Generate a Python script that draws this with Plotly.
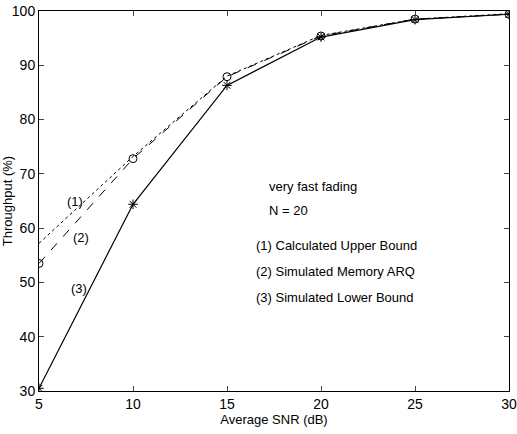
import plotly.graph_objects as go

snr = [5, 10, 15, 20, 25, 30]
upper_bound = [57.2, 73.2, 88.0, 95.5, 98.5, 99.5]
memory_arq = [53.5, 72.8, 87.9, 95.4, 98.5, 99.4]
lower_bound = [30.5, 64.4, 86.3, 95.2, 98.4, 99.4]

x_ticks = [5, 10, 15, 20, 25, 30]
y_ticks = [30, 40, 50, 60, 70, 80, 90, 100]

fig = go.Figure()
fig.add_trace(go.Scatter(x=snr, y=upper_bound, mode="lines",
                         line=dict(color="black", width=1, dash="dot"), name="(1)"))
fig.add_trace(go.Scatter(x=snr, y=memory_arq, mode="lines+markers",
                         line=dict(color="black", width=1, dash="dash"),
                         marker=dict(symbol="circle-open", size=8, color="black", line=dict(width=1)),
                         name="(2)"))
fig.add_trace(go.Scatter(x=snr, y=lower_bound, mode="lines+markers",
                         line=dict(color="black", width=1.2),
                         marker=dict(symbol="asterisk-open", size=8, color="black", line=dict(width=1, color="black")),
                         name="(3)"))

fam = "Liberation Sans, Arial, sans-serif"
font = dict(family=fam, size=14, color="black")

annots = [
    (6.4, 64.9, "(1)"), (6.7, 58.2, "(2)"), (6.6, 48.9, "(3)"),
    (17.15, 67.6, "very fast fading"), (17.15, 63.2, "N = 20"),
    (16.45, 56.75, "(1) Calculated Upper Bound"),
    (16.45, 52.0, "(2) Simulated Memory ARQ"),
    (16.45, 47.2, "(3) Simulated Lower Bound"),
]
for ax_, ay_, t in annots:
    fig.add_annotation(x=ax_, y=ay_, text=t, showarrow=False, xanchor="left",
                       yanchor="middle", font=dict(family=fam, size=13, color="black"))

fig.update_layout(
    width=517, height=434,
    margin=dict(l=39, r=8, t=11, b=43, autoexpand=False),
    paper_bgcolor="white", plot_bgcolor="white",
    showlegend=False, font=font,
    xaxis=dict(range=[4.9999, 30.0001], tickvals=x_ticks, ticks="inside", ticklen=5,
               showline=True, mirror="ticks", linecolor="black", linewidth=1,
               showgrid=False, zeroline=False, ticklabeloverflow="allow", automargin=False,
               title=dict(text="Average SNR (dB)", standoff=2, font=dict(size=13))),
    yaxis=dict(range=[29.9999, 100.0001], tickvals=y_ticks, ticks="inside", ticklen=5,
               showline=True, mirror="ticks", linecolor="black", linewidth=1,
               showgrid=False, zeroline=False, ticklabeloverflow="allow", automargin=False,
               title=dict(text="Throughput (%)", standoff=9, font=dict(size=13))),
)

fig.write_html("out.html")
